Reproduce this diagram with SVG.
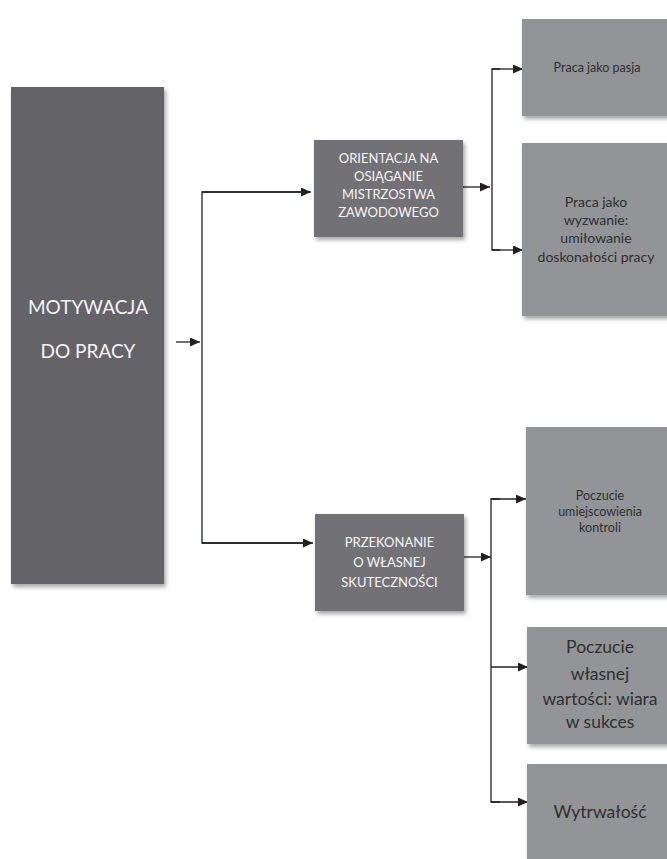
<svg xmlns="http://www.w3.org/2000/svg" width="667" height="859" viewBox="0 0 667 859">
<style>
.main{fill:#646467}
.mid{fill:#727276}
.leaf{fill:#939497}
.lt{fill:#f4f4f4;font-family:Lato,"Liberation Sans",sans-serif;text-anchor:middle}
.dk{fill:#2f2f31;font-family:Lato,"Liberation Sans",sans-serif;text-anchor:middle}
.ln{stroke:#231f20;stroke-width:1.3;fill:none}
</style>
<defs>
<filter id="sh" x="-10%" y="-10%" width="130%" height="130%">
<feDropShadow dx="2" dy="3" stdDeviation="2" flood-color="#000" flood-opacity="0.35"/>
</filter>
<marker id="ah" markerWidth="10" markerHeight="9" refX="10" refY="4.5" orient="auto" markerUnits="userSpaceOnUse">
<path d="M0,0 L10,4.5 L0,9 Z" fill="#231f20"/>
</marker>
</defs>
<rect width="667" height="859" fill="#ffffff"/>
<g id="connectors">
<line class="ln" x1="176" y1="342" x2="200" y2="342" marker-end="url(#ah)"/>
<polyline class="ln" points="309,192 202,192 202,543 311,543"/>
<line class="ln" x1="202" y1="192" x2="311" y2="192" marker-end="url(#ah)"/>
<line class="ln" x1="202" y1="543" x2="313" y2="543" marker-end="url(#ah)"/>
<line class="ln" x1="463" y1="187" x2="490" y2="187" marker-end="url(#ah)"/>
<polyline class="ln" points="500,69 492,69 492,250 500,250"/>
<line class="ln" x1="492" y1="69" x2="523" y2="69" marker-end="url(#ah)"/>
<line class="ln" x1="492" y1="250" x2="523" y2="250" marker-end="url(#ah)"/>
<line class="ln" x1="464" y1="557" x2="491" y2="557" marker-end="url(#ah)"/>
<polyline class="ln" points="500,499 491,499 491,802 500,802"/>
<line class="ln" x1="491" y1="499" x2="526" y2="499" marker-end="url(#ah)"/>
<line class="ln" x1="491" y1="667" x2="528" y2="667" marker-end="url(#ah)"/>
<line class="ln" x1="491" y1="802" x2="528" y2="802" marker-end="url(#ah)"/>
</g>
<g id="motywacja">
<rect class="main" x="11" y="87" width="153" height="497" filter="url(#sh)"/>
<text class="lt" x="88" y="314" font-size="19">MOTYWACJA</text>
<text class="lt" x="88" y="358" font-size="19">DO PRACY</text>
</g>
<g id="orientacja">
<rect class="mid" x="314" y="140" width="149" height="97" filter="url(#sh)"/>
<text class="lt" x="388.5" y="163" font-size="13">ORIENTACJA NA</text>
<text class="lt" x="388.5" y="181" font-size="13">OSIĄGANIE</text>
<text class="lt" x="388.5" y="199" font-size="13">MISTRZOSTWA</text>
<text class="lt" x="388.5" y="217" font-size="13">ZAWODOWEGO</text>
</g>
<g id="przekonanie">
<rect class="mid" x="315" y="514" width="149" height="97" filter="url(#sh)"/>
<text class="lt" x="389.5" y="547" font-size="13">PRZEKONANIE</text>
<text class="lt" x="389.5" y="567" font-size="13">O WŁASNEJ</text>
<text class="lt" x="389.5" y="587" font-size="13">SKUTECZNOŚCI</text>
</g>
<g id="pasja">
<rect class="leaf" x="522" y="19" width="152" height="97" filter="url(#sh)"/>
<text class="dk" x="597" y="72" font-size="12.5">Praca jako pasja</text>
</g>
<g id="wyzwanie">
<rect class="leaf" x="522" y="143" width="152" height="173" filter="url(#sh)"/>
<text class="dk" x="596" y="207" font-size="14">Praca jako</text>
<text class="dk" x="596" y="225" font-size="14">wyzwanie:</text>
<text class="dk" x="596" y="243" font-size="14">umiłowanie</text>
<text class="dk" x="596" y="262" font-size="14">doskonałości pracy</text>
</g>
<g id="umiejscowienie">
<rect class="leaf" x="526" y="427" width="150" height="168" filter="url(#sh)"/>
<text class="dk" x="600" y="500" font-size="12.5">Poczucie</text>
<text class="dk" x="600" y="516" font-size="12.5">umiejscowienia</text>
<text class="dk" x="600" y="532" font-size="12.5">kontroli</text>
</g>
<g id="wartosc">
<rect class="leaf" x="527" y="627" width="150" height="117" filter="url(#sh)"/>
<text class="dk" x="600" y="653" font-size="17.5">Poczucie</text>
<text class="dk" x="600" y="680" font-size="17.5">własnej</text>
<text class="dk" x="600" y="705" font-size="17.5">wartości: wiara</text>
<text class="dk" x="600" y="728" font-size="17.5">w sukces</text>
</g>
<g id="wytrwalosc">
<rect class="leaf" x="527" y="764" width="150" height="110" filter="url(#sh)"/>
<text class="dk" x="600" y="818" font-size="17.5">Wytrwałość</text>
</g>
</svg>
